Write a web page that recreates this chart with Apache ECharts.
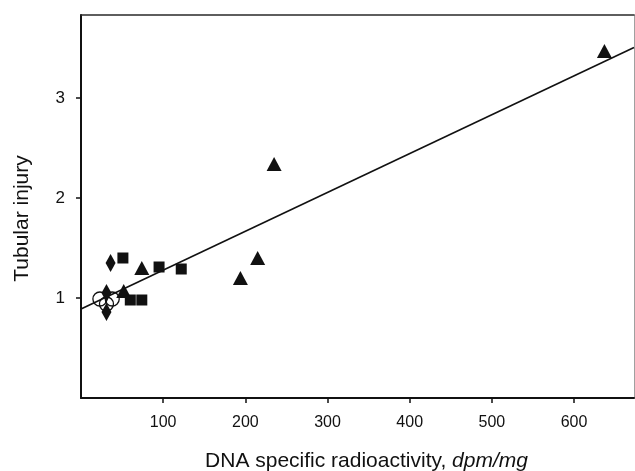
<!DOCTYPE html>
<html>
<head>
<meta charset="utf-8">
<script src="https://cdn.jsdelivr.net/npm/echarts@6/dist/echarts.min.js"></script>
<style>
  html, body { margin: 0; padding: 0; background: #fff; }
  #chart { width: 635px; height: 471px; }
</style>
</head>
<body>
<div id="chart"></div>
<script>
// Tick values on each axis
const xTicks = [100, 200, 300, 400, 500, 600];
const yTicks = [1, 2, 3];

// Groups of observations: DNA specific radioactivity (dpm/mg) vs tubular injury score
const triangleX = [637, 235, 215, 194, 74, 52];
const triangleY = [3.47, 2.34, 1.40, 1.20, 1.30, 1.07];

const squareX = [51, 95, 122, 60, 74];
const squareY = [1.40, 1.31, 1.29, 0.98, 0.98];

const diamondX = [36, 31, 31];
const diamondY = [1.35, 1.05, 0.86];

const circleX = [23, 38, 31];
const circleY = [0.99, 0.99, 0.94];

// Regression line end points
const fitX = [0, 673];
const fitY = [0.89, 3.505];

const pairs = (xs, ys) => xs.map((x, i) => [x, ys[i]]);

const ink = '#111111';
const font = 'Liberation Sans, Arial, Helvetica, sans-serif';

const chart = echarts.init(document.getElementById('chart'), null, { renderer: 'canvas' });

chart.setOption({
  animation: false,
  backgroundColor: '#ffffff',
  grid: { left: 81, right: 1, top: 15, bottom: 73, containLabel: false, outerBoundsMode: 'none' },
  xAxis: [
    {
      type: 'value',
      min: 0,
      max: 673,
      position: 'bottom',
      splitLine: { show: false },
      axisLine: { show: true, onZero: false, lineStyle: { color: ink, width: 2 } },
      axisTick: { show: true, inside: false, length: 5, customValues: xTicks, lineStyle: { color: ink, width: 1.5 } },
      axisLabel: { show: true, customValues: xTicks, margin: 17, color: ink, fontFamily: font, fontSize: 16 },
      name: 'DNA specific radioactivity, {i|dpm/mg}',
      nameLocation: 'middle',
      nameGap: 53,
      nameTextStyle: {
        color: ink, fontFamily: font, fontSize: 21, padding: [0, 0, 0, 18],
        rich: { i: { fontStyle: 'italic', fontFamily: font, fontSize: 21, color: ink } }
      }
    },
    {
      type: 'value',
      min: 0,
      max: 673,
      position: 'top',
      splitLine: { show: false },
      axisLine: { show: true, onZero: false, lineStyle: { color: '#2a2a2a', width: 1.5 } },
      axisTick: { show: false },
      axisLabel: { show: false }
    }
  ],
  yAxis: [
    {
      type: 'value',
      min: 0,
      max: 3.83,
      position: 'left',
      splitLine: { show: false },
      axisLine: { show: true, onZero: false, lineStyle: { color: ink, width: 2 } },
      axisTick: { show: true, inside: false, length: 5, customValues: yTicks, lineStyle: { color: ink, width: 1.5 } },
      axisLabel: { show: true, customValues: yTicks, margin: 16, color: ink, fontFamily: font, fontSize: 17 },
      name: 'Tubular injury',
      nameLocation: 'middle',
      nameGap: 48,
      nameTextStyle: { color: ink, fontFamily: font, fontSize: 21, padding: [0, 24, 0, 0] }
    },
    {
      type: 'value',
      min: 0,
      max: 3.83,
      position: 'right',
      splitLine: { show: false },
      axisLine: { show: true, onZero: false, lineStyle: { color: '#a0a0a0', width: 1 } },
      axisTick: { show: false },
      axisLabel: { show: false }
    }
  ],
  series: [
    {
      type: 'line',
      data: pairs(fitX, fitY),
      showSymbol: false,
      symbol: 'none',
      lineStyle: { color: ink, width: 1.6 },
      z: 1,
      silent: true
    },
    {
      type: 'scatter',
      data: pairs(circleX, circleY),
      symbol: 'circle',
      symbolSize: 14,
      itemStyle: { color: 'rgba(255,255,255,0)', borderColor: ink, borderWidth: 1.3, opacity: 1 },
      z: 2
    },
    {
      type: 'scatter',
      data: pairs(diamondX, diamondY),
      symbol: 'diamond',
      symbolSize: [10, 18],
      itemStyle: { color: ink, opacity: 1 },
      z: 3
    },
    {
      type: 'scatter',
      data: pairs(squareX, squareY),
      symbol: 'rect',
      symbolSize: 11,
      itemStyle: { color: ink, opacity: 1 },
      z: 3
    },
    {
      type: 'scatter',
      data: pairs(triangleX, triangleY),
      symbol: 'triangle',
      symbolSize: [15, 14],
      itemStyle: { color: ink, opacity: 1 },
      z: 3
    }
  ]
});
</script>
</body>
</html>
